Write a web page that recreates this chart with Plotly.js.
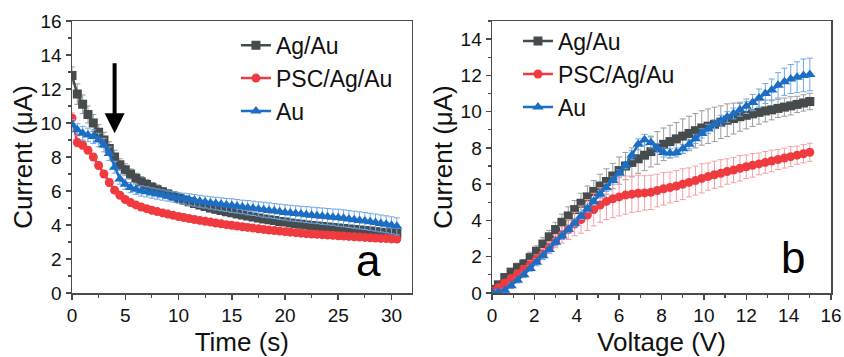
<!DOCTYPE html>
<html><head><meta charset="utf-8">
<script src="https://cdn.plot.ly/plotly-3.0.1.min.js"></script>
<style>html,body{margin:0;padding:0;background:#fff}#plot{width:844px;height:357px}</style>
</head><body><div id="plot"></div>
<script>
// ---- Panel a: current vs time ----
const timeS = [0,0.5,1,1.5,2,2.5,3,3.5,4,4.5,5,5.5,6,6.5,7,7.5,8,8.5,9,9.5,10,10.5,11,11.5,12,12.5,13,13.5,14,14.5,15,15.5,16,16.5,17,17.5,18,18.5,19,19.5,20,20.5,21,21.5,22,22.5,23,23.5,24,24.5,25,25.5,26,26.5,27,27.5,28,28.5,29,29.5,30,30.5];
const agAuTime = [12.8,11.7,11.1,10.5,10.0,9.45,9.0,8.5,8.0,7.55,7.25,7.0,6.75,6.55,6.38,6.22,6.08,5.95,5.82,5.7,5.58,5.47,5.37,5.27,5.18,5.09,5.0,4.92,4.85,4.78,4.72,4.65,4.59,4.53,4.47,4.41,4.36,4.31,4.26,4.21,4.17,4.12,4.08,4.04,4.0,3.97,3.94,3.91,3.88,3.85,3.82,3.79,3.76,3.73,3.7,3.67,3.64,3.61,3.58,3.55,3.52,3.5];
const agAuTimeErr = [0.5,0.6,0.55,0.5,0.5,0.45,0.45,0.4,0.4,0.35,0.35,0.3,0.3,0.3,0.3,0.28,0.28,0.26,0.26,0.25,0.25,0.24,0.24,0.23,0.23,0.22,0.22,0.22,0.21,0.21,0.2,0.2,0.2,0.2,0.2,0.19,0.19,0.19,0.19,0.18,0.18,0.18,0.18,0.18,0.17,0.17,0.17,0.17,0.17,0.16,0.16,0.16,0.16,0.16,0.15,0.15,0.15,0.15,0.15,0.15,0.15,0.15];
const pscTime = [10.3,8.85,8.7,8.4,8.0,7.5,7.0,6.5,6.05,5.75,5.5,5.32,5.18,5.06,4.96,4.87,4.79,4.71,4.64,4.57,4.5,4.44,4.38,4.32,4.27,4.22,4.17,4.12,4.07,4.02,3.98,3.94,3.9,3.86,3.82,3.78,3.74,3.7,3.67,3.64,3.61,3.58,3.55,3.52,3.49,3.47,3.45,3.43,3.41,3.39,3.37,3.35,3.33,3.31,3.29,3.27,3.25,3.23,3.21,3.2,3.18,3.17];
const pscTimeErr = [0.3,0.25,0.25,0.2,0.2,0.2,0.2,0.2,0.18,0.18,0.15,0.15,0.15,0.15,0.15,0.15,0.15,0.15,0.15,0.15,0.15,0.15,0.15,0.15,0.15,0.15,0.15,0.15,0.15,0.15,0.15,0.15,0.15,0.15,0.15,0.15,0.15,0.15,0.15,0.15,0.15,0.15,0.15,0.15,0.15,0.15,0.15,0.15,0.15,0.15,0.15,0.15,0.15,0.15,0.15,0.15,0.15,0.15,0.15,0.15,0.15,0.15];
const auTime = [9.9,9.6,9.4,9.3,9.2,9.0,8.7,8.2,7.4,6.7,6.4,6.2,6.1,6.0,5.95,5.88,5.82,5.76,5.7,5.65,5.6,5.55,5.5,5.45,5.4,5.35,5.3,5.26,5.22,5.18,5.14,5.1,5.06,5.02,4.98,4.94,4.9,4.86,4.82,4.78,4.74,4.7,4.67,4.64,4.61,4.58,4.55,4.52,4.49,4.46,4.43,4.39,4.35,4.31,4.27,4.23,4.19,4.14,4.09,4.04,3.98,3.92];
const auTimeErr = [0.3,0.35,0.4,0.4,0.4,0.4,0.4,0.4,0.35,0.3,0.3,0.3,0.3,0.3,0.3,0.3,0.3,0.3,0.3,0.3,0.32,0.32,0.34,0.34,0.35,0.35,0.36,0.37,0.38,0.38,0.4,0.4,0.4,0.42,0.42,0.42,0.44,0.44,0.44,0.45,0.45,0.46,0.46,0.46,0.47,0.47,0.47,0.48,0.48,0.48,0.5,0.5,0.5,0.5,0.5,0.5,0.5,0.5,0.5,0.5,0.5,0.5];

// ---- Panel b: current vs voltage ----
const voltV = [0,0.3,0.6,0.9,1.2,1.5,1.8,2.1,2.4,2.7,3.0,3.3,3.6,3.9,4.2,4.5,4.8,5.1,5.4,5.7,6.0,6.3,6.6,6.9,7.2,7.5,7.8,8.1,8.4,8.7,9.0,9.3,9.6,9.9,10.2,10.5,10.8,11.1,11.4,11.7,12.0,12.3,12.6,12.9,13.2,13.5,13.8,14.1,14.4,14.7,15.0];
const agAuVolt = [0.2,0.45,0.85,1.15,1.4,1.6,1.95,2.3,2.7,3.1,3.5,3.9,4.25,4.6,4.95,5.3,5.6,5.9,6.15,6.45,6.75,7.0,7.2,7.4,7.6,7.8,8.0,8.2,8.35,8.5,8.65,8.8,8.95,9.1,9.2,9.3,9.42,9.53,9.62,9.72,9.8,9.88,9.96,10.04,10.1,10.18,10.25,10.32,10.4,10.48,10.56];
const agAuVoltErr = [0.15,0.2,0.2,0.2,0.25,0.25,0.3,0.3,0.35,0.35,0.4,0.45,0.5,0.5,0.55,0.6,0.6,0.65,0.7,0.7,0.75,0.75,0.8,0.8,0.85,0.85,0.9,0.9,0.9,0.9,0.95,0.95,0.95,0.95,0.95,0.95,0.9,0.9,0.85,0.8,0.75,0.7,0.65,0.6,0.55,0.5,0.5,0.5,0.45,0.45,0.45];
const pscVolt = [0.1,0.3,0.55,0.8,1.05,1.3,1.55,1.85,2.15,2.5,2.85,3.2,3.5,3.8,4.05,4.3,4.6,4.85,5.05,5.2,5.3,5.4,5.45,5.5,5.52,5.55,5.65,5.75,5.82,5.9,6.0,6.1,6.2,6.32,6.42,6.52,6.6,6.7,6.78,6.88,6.96,7.04,7.12,7.2,7.28,7.36,7.44,7.52,7.6,7.68,7.76];
const pscVoltErr = [0.1,0.1,0.15,0.15,0.2,0.2,0.25,0.25,0.3,0.3,0.35,0.45,0.55,0.65,0.75,0.85,0.9,0.95,1.0,1.05,1.05,1.05,1.0,1.0,0.95,0.95,0.9,0.9,0.85,0.85,0.85,0.8,0.8,0.8,0.75,0.75,0.75,0.7,0.7,0.7,0.65,0.65,0.6,0.6,0.6,0.55,0.55,0.55,0.5,0.5,0.5];
const auVolt = [0.05,0.05,0.15,0.4,0.7,1.0,1.35,1.7,2.05,2.4,2.8,3.15,3.5,3.85,4.25,4.65,5.05,5.45,5.8,6.2,6.6,7.05,7.6,8.2,8.45,8.3,8.0,7.75,7.7,7.75,7.95,8.2,8.5,8.8,9.05,9.3,9.5,9.7,9.9,10.1,10.3,10.5,10.75,11.0,11.2,11.45,11.65,11.8,11.9,12.0,12.05];
const auVoltErr = [0.1,0.1,0.1,0.15,0.15,0.15,0.15,0.2,0.2,0.2,0.2,0.2,0.2,0.2,0.2,0.2,0.2,0.2,0.2,0.2,0.2,0.2,0.25,0.3,0.3,0.3,0.25,0.25,0.25,0.25,0.25,0.25,0.25,0.25,0.25,0.25,0.3,0.3,0.3,0.35,0.4,0.45,0.5,0.55,0.6,0.7,0.75,0.8,0.85,0.9,0.9];

const seriesNames = ['Ag/Au', 'PSC/Ag/Au', 'Au'];
const xTitles = ['Time (s)', 'Voltage (V)'];
const yTitle = 'Current (μA)';
const panelLabels = ['a', 'b'];

const colors = ['#464c4e', '#ef3b40', '#1c6ec4'];
const errColors = ['#9c9c9c', '#f4a0a3', '#6fa8e6'];
const symbols = ['square', 'circle', 'triangle-up'];
const msizes = [9, 9, 10];

function mk(i, x, y, err, xa, ya, leg) {
  return {
    type: 'scatter', mode: 'lines+markers', name: seriesNames[i],
    x: x, y: y, xaxis: xa, yaxis: ya, legend: leg,
    line: {color: colors[i], width: 2.5},
    marker: {symbol: symbols[i], size: msizes[i], color: colors[i]},
    error_y: {type: 'data', array: err, visible: true, color: errColors[i], thickness: 1, width: 3}
  };
}

const data = [
  mk(0, timeS, agAuTime, agAuTimeErr, 'x', 'y', 'legend'),
  mk(1, timeS, pscTime, pscTimeErr, 'x', 'y', 'legend'),
  mk(2, timeS, auTime, auTimeErr, 'x', 'y', 'legend'),
  mk(0, voltV, agAuVolt, agAuVoltErr, 'x2', 'y2', 'legend2'),
  mk(1, voltV, pscVolt, pscVoltErr, 'x2', 'y2', 'legend2'),
  mk(2, voltV, auVolt, auVoltErr, 'x2', 'y2', 'legend2')
];

const FONT = 'Liberation Sans, Arial, sans-serif';
const tickFont = {family: FONT, size: 19, color: '#111'};
const titleFont = {family: FONT, size: 26, color: '#111'};
const lineCol = '#4a4a4a';

function mainAxis(extra) {
  return Object.assign({
    showline: true, linecolor: lineCol, linewidth: 1.5, mirror: true,
    ticks: 'outside', ticklen: 5, tickwidth: 1.5, tickcolor: lineCol,
    showgrid: false, zeroline: false, tickfont: tickFont,
    automargin: false, fixedrange: true
  }, extra);
}
function mirrorAxis(extra) {
  return Object.assign({
    showline: false, ticks: 'inside', ticklen: 5, tickwidth: 1.5, tickcolor: lineCol,
    showticklabels: false, showgrid: false, zeroline: false, automargin: false, fixedrange: true
  }, extra);
}

const domA = [0, 0.4476], domB = [0.5534, 1];
const layout = {
  width: 844, height: 357,
  margin: {l: 72, r: 13, t: 21, b: 64},
  paper_bgcolor: '#fff', plot_bgcolor: '#fff',
  font: {family: FONT, color: '#111'},
  xaxis: mainAxis({domain: domA, range: [0, 31.9], dtick: 5, anchor: 'y',
    minor: {ticks: 'outside', ticklen: 3, tickwidth: 1.2, tickcolor: lineCol, dtick: 2.5},
    title: {text: xTitles[0], font: titleFont, standoff: 11}}),
  yaxis: mainAxis({domain: [0, 1], range: [0, 16], dtick: 2, anchor: 'x',
    minor: {ticks: 'outside', ticklen: 3, tickwidth: 1.2, tickcolor: lineCol, dtick: 1},
    title: {text: yTitle, font: titleFont, standoff: 0}}),
  xaxis2: mainAxis({domain: domB, range: [0, 16], dtick: 2, anchor: 'y2',
    minor: {ticks: 'outside', ticklen: 3, tickwidth: 1.2, tickcolor: lineCol, dtick: 1},
    title: {text: xTitles[1], font: titleFont, standoff: 11}}),
  yaxis2: mainAxis({domain: [0, 1], range: [0, 15], dtick: 2, anchor: 'x2',
    minor: {ticks: 'outside', ticklen: 3, tickwidth: 1.2, tickcolor: lineCol, dtick: 1},
    title: {text: yTitle, font: titleFont, standoff: 0}}),
  xaxis3: mirrorAxis({domain: domA, range: [0, 31.9], dtick: 5, overlaying: 'x', side: 'top', anchor: 'y',
    minor: {ticks: 'inside', ticklen: 3, tickwidth: 1.2, tickcolor: lineCol, dtick: 2.5}}),
  yaxis3: mirrorAxis({domain: [0, 1], range: [0, 16], dtick: 2, overlaying: 'y', side: 'right', anchor: 'x',
    minor: {ticks: 'inside', ticklen: 3, tickwidth: 1.2, tickcolor: lineCol, dtick: 1}}),
  xaxis4: mirrorAxis({domain: domB, range: [0, 16], dtick: 2, overlaying: 'x2', side: 'top', anchor: 'y2',
    minor: {ticks: 'inside', ticklen: 3, tickwidth: 1.2, tickcolor: lineCol, dtick: 1}}),
  yaxis4: mirrorAxis({domain: [0, 1], range: [0, 15], dtick: 2, overlaying: 'y2', side: 'right', anchor: 'x2',
    minor: {ticks: 'inside', ticklen: 3, tickwidth: 1.2, tickcolor: lineCol, dtick: 1}}),
  legend: {x: 0.216, y: 0.99, xanchor: 'left', yanchor: 'top', bgcolor: 'rgba(0,0,0,0)',
    font: {family: FONT, size: 23, color: '#111'}, tracegroupgap: 0, itemwidth: 30},
  legend2: {x: 0.5876, y: 1.005, xanchor: 'left', yanchor: 'top', bgcolor: 'rgba(0,0,0,0)',
    font: {family: FONT, size: 23, color: '#111'}, tracegroupgap: 0, itemwidth: 30},
  annotations: [
    {xref: 'x', yref: 'y', x: 4.0, y: 9.4, axref: 'x', ayref: 'y', ax: 4.0, ay: 13.6,
     showarrow: true, arrowhead: 2, arrowsize: 1.0, arrowwidth: 4, arrowcolor: '#000', text: ''},
    {xref: 'x', yref: 'y', x: 27.8, y: 1.9, text: panelLabels[0], showarrow: false,
     font: {family: FONT, size: 44, color: '#000'}},
    {xref: 'x2', yref: 'y2', x: 14.2, y: 1.95, text: panelLabels[1], showarrow: false,
     font: {family: FONT, size: 44, color: '#000'}}
  ],
  showlegend: true
};

Plotly.newPlot('plot', data, layout, {displayModeBar: false, staticPlot: true});
</script>
</body></html>
